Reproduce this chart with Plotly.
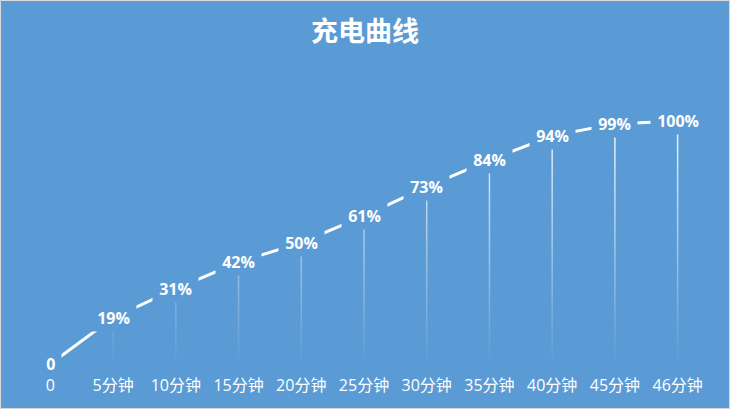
import plotly.graph_objects as go

# 充电曲线 data
categories = ['0', '5分钟', '10分钟', '15分钟', '20分钟', '25分钟',
              '30分钟', '35分钟', '40分钟', '45分钟', '46分钟']
charge = [0, 19, 31, 42, 50, 61, 73, 84, 94, 99, 100]
point_labels = ['0', '19%', '31%', '42%', '50%', '61%',
                '73%', '84%', '94%', '99%', '100%']

bg = '#5B9BD5'
font_family = 'Open Sans, Noto Sans CJK SC, sans-serif'
W, H = 730, 409
ml, mr, mt, mb = 19, 21, 97, 45

xs = list(range(len(categories)))

fig = go.Figure()

# drop lines (thin polygons so they can carry a gradient)
half = 0.012
drop_x, drop_y = [], []
for i, v in zip(xs, charge):
    if v <= 0:
        continue
    drop_x += [i - half, i + half, i + half, i - half, i - half, None]
    drop_y += [0, 0, v, v, 0, None]

fig.add_trace(go.Scatter(
    x=drop_x, y=drop_y, mode='lines', fill='toself',
    line=dict(width=0, color='rgba(255,255,255,0)'),
    fillgradient=dict(type='vertical', start=0, stop=100,
                      colorscale=[[0, 'rgba(255,255,255,0)'],
                                  [1, 'rgba(255,255,255,0.9)']]),
    hoverinfo='skip', showlegend=False))

# charge curve (label boxes break it into dashes)
fig.add_trace(go.Scatter(
    x=xs, y=charge, mode='lines',
    line=dict(color='white', width=3),
    cliponaxis=False, showlegend=False))

# data labels sit on the points, covering the line
for i, v, t in zip(xs, charge, point_labels):
    fig.add_annotation(x=i, y=v, text='&nbsp;<b>' + t + '</b>&nbsp;',
                       showarrow=False, bgcolor=bg, borderpad=2,
                       font=dict(size=16, color='white', family=font_family))

# light frame around the chart area
pw = W - ml - mr
ph = H - mt - mb
fig.add_shape(type='rect', xref='paper', yref='paper',
              x0=-ml / pw + 0.5 / pw, x1=1 + (mr - 0.5) / pw,
              y0=-mb / ph + 0.5 / ph, y1=1 + (mt - 0.5) / ph,
              line=dict(color='#D9D9D9', width=1), layer='above')

fig.update_layout(
    width=W, height=H,
    margin=dict(l=ml, r=mr, t=mt, b=mb),
    paper_bgcolor=bg, plot_bgcolor=bg,
    font=dict(family=font_family, color='white'),
    title=dict(text='<b>充电曲线</b>', x=0.5, xanchor='center',
               y=1 - 32 / H, yanchor='middle', yref='container',
               font=dict(size=27, color='white', family=font_family)),
    showlegend=False,
)
fig.update_xaxes(range=[-0.5, 10.5], tickmode='array', tickvals=xs,
                 ticktext=categories, showgrid=False, zeroline=False,
                 showline=False, ticks='outside', ticklen=7,
                 tickcolor='rgba(0,0,0,0)',
                 tickfont=dict(size=16, color='white'))
fig.update_yaxes(range=[0, 110], visible=False, showgrid=False)

# page body has a default margin; drop it so the chart fills the window
fig.write_html('out.html', config={'displayModeBar': False},
               post_script="document.body.style.margin='0';")
